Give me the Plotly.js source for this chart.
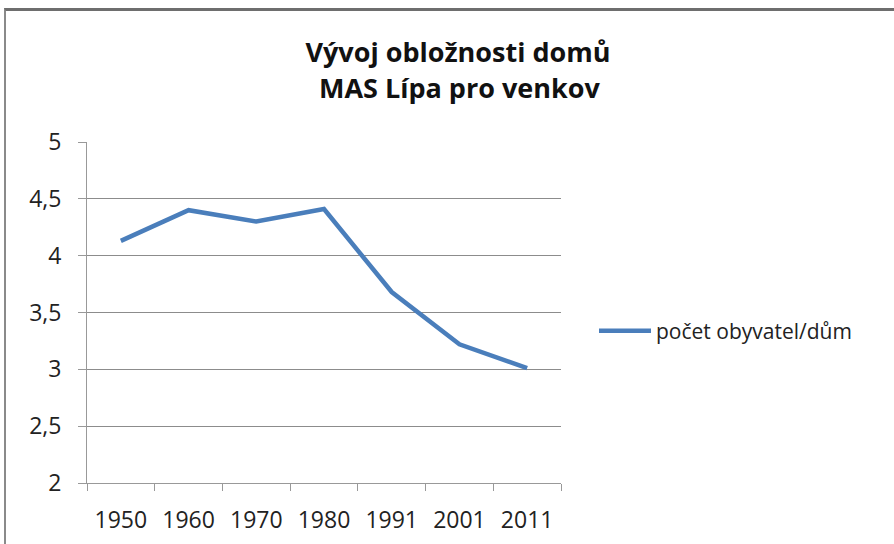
<!DOCTYPE html>
<html>
<head>
<meta charset="utf-8">
<script src="https://cdn.plot.ly/plotly-3.0.1.min.js"></script>
<style>
html,body{margin:0;padding:0;background:#fff;}
#wrap{position:relative;width:894px;height:544px;overflow:hidden;}
#chart{position:absolute;left:0;top:0;width:894px;height:544px;}
#frame{position:absolute;left:4px;top:8px;width:920px;height:560px;border-top:3px solid #6e6e6e;border-left:2px solid #8a8a8a;pointer-events:none;}
</style>
</head>
<body>
<div id="wrap"><div id="chart"></div><div id="frame"></div></div>
<script>
const categories = ['1950','1960','1970','1980','1991','2001','2011'];
const values = [4.13, 4.40, 4.30, 4.41, 3.68, 3.22, 3.01];
const seriesName = 'počet obyvatel/dům';
const titleLine1 = 'Vývoj obložnosti domů';
const titleLine2 = 'MAS Lípa pro venkov';

const font = '"Open Sans", "Noto Sans", sans-serif';

const trace = {
  x: categories, y: values, type: 'scatter', mode: 'lines', name: seriesName,
  line: {color: '#4a7ebb', width: 4.5}
};

const layout = {
  width: 894, height: 544,
  margin: {l: 87, r: 333, t: 142, b: 61},
  paper_bgcolor: '#fff', plot_bgcolor: '#fff',
  separators: ',.',
  font: {family: font, color: '#222', size: 23},
  title: {text: '<b>' + titleLine1 + '</b>', font: {family: font, size: 27, color: '#111'},
          x: 458/894, xanchor: 'center', xref: 'container', y: 1 - 53/544, yref: 'container', yanchor: 'middle'},
  annotations: [{text: '<b>' + titleLine2 + '</b>', xref: 'paper', yref: 'paper',
                 x: (459 - 87)/474, y: (483 - 88)/341, xanchor: 'center', yanchor: 'middle',
                 showarrow: false, font: {family: font, size: 27, color: '#111'}}],
  showlegend: true,
  legend: {x: (594 - 87)/474, y: (483 - 331)/341, xanchor: 'left', yanchor: 'middle',
           itemwidth: 52,
           font: {family: font, size: 21, color: '#222'}, bgcolor: 'rgba(0,0,0,0)'},
  xaxis: {type: 'category', range: [-0.5, 6.5], showgrid: false, showline: true, linecolor: '#999', linewidth: 1,
          ticks: 'outside', tickson: 'boundaries', ticklen: 7, tickcolor: '#999',
          ticklabelstandoff: 16, tickfont: {family: font, size: 23, color: '#222'}, fixedrange: true},
  yaxis: {range: [2, 5], dtick: 0.5, tick0: 2, showgrid: true, gridcolor: '#8c8c8c', gridwidth: 1,
          showline: true, linecolor: '#999', ticks: 'outside', ticklen: 8, tickcolor: '#999',
          ticklabelstandoff: 12, zeroline: false, tickfont: {family: font, size: 23, color: '#222'}}
};

Plotly.newPlot('chart', [trace], layout, {displayModeBar: false, staticPlot: true});
</script>
</body>
</html>
